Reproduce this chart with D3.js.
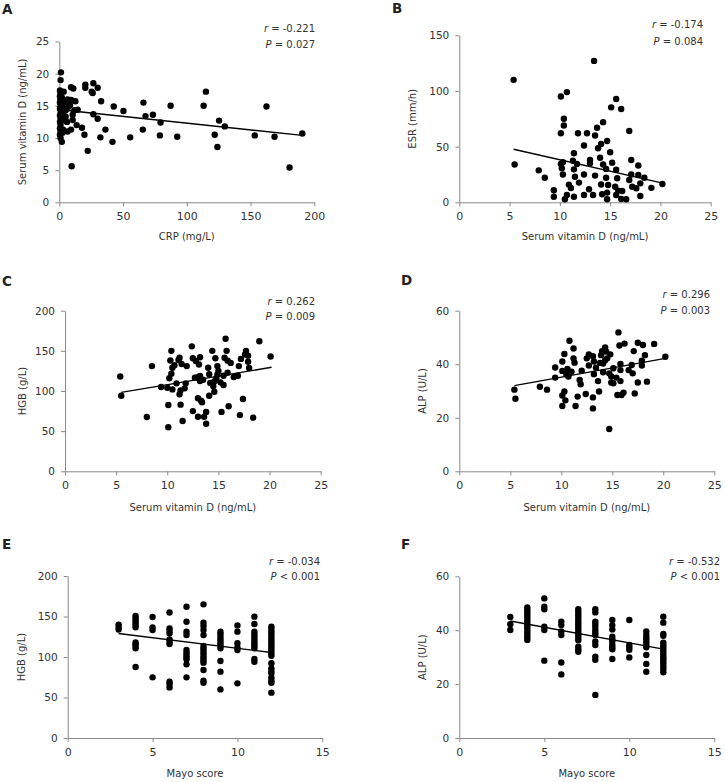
<!DOCTYPE html>
<html><head><meta charset="utf-8">
<script src="https://cdn.jsdelivr.net/npm/d3@7"></script>
<style>
body{margin:0;background:#fff}
svg{display:block}
text{font-family:"DejaVu Sans",Verdana,sans-serif}
</style>
</head><body>
<svg id="chart" width="725" height="782"></svg>
<script>
// ---------- DATA ----------
// Panel A: CRP (mg/L) vs Serum vitamin D (ng/mL)
const pointsA = [[1.3,20.2],[1,19.0],[0.5,17.4],[1,17.0],[3.4,17.2],[0.5,16.5],[0.8,16.0],[0.5,15.5],[1,15.0],[0.5,14.5],[1.2,14.0],[0.5,13.5],[1,13.0],[0.5,12.5],[1,12.0],[0.5,11.5],[1,11.0],[0.5,10.5],[1,10.0],[2,9.4],[2,16.3],[2.5,15.3],[2.5,13.8],[2,12.7],[3,11.3],[2.5,10.8],[3.5,14.6],[4,13.3],[4.5,15.8],[6,15.6],[6.5,16.0],[5,14.3],[5,13.3],[6,12.5],[6.5,11.0],[7,14.8],[8.4,15.1],[9.2,15.9],[9.2,17.9],[11,17.7],[9.7,5.6],[9.2,11.3],[10.5,13.6],[10.5,12.8],[11.8,14.3],[12.6,15.7],[14.4,14.4],[13.6,12.0],[17.8,11.6],[19.7,10.5],[20.4,18.3],[20.4,17.8],[22.3,8.0],[25.4,17.2],[26.2,17.0],[26.7,18.5],[26.7,13.7],[30.1,17.8],[30.1,13.0],[32.2,10.1],[32.8,15.7],[36.2,11.3],[41.7,9.4],[42.7,14.9],[50.3,14.2],[55.6,10.1],[65.5,11.3],[66,15.5],[67.6,13.4],[73.4,13.6],[79.4,12.4],[78.9,10.4],[87.3,15.0],[92.5,10.2],[113.2,15.0],[115,17.2],[121.9,10.5],[124,8.6],[125.3,12.7],[129.8,11.8],[153.3,10.4],[162.5,14.9],[168.8,10.2],[180.6,5.4],[190.6,10.7]];
const lineA = [[1,14.4],[190.6,10.4]];
const xTicksA = [0,50,100,150,200];
const yTicksA = [0,5,10,15,20,25];

// Panel B: Serum vitamin D vs ESR (mm/h)
const pointsB = [[5.4,110],[5.5,34],[7.9,28.7],[8.5,22],[9.4,10.8],[9.4,5],[10.1,95],[10.7,99],[10.4,75],[10.4,69],[10.1,62],[10.1,34.4],[10.3,36],[10.2,30.5],[10.3,25],[10.7,6.6],[10.5,2.7],[10.9,15.9],[11.1,12.9],[11.4,29.6],[11.4,5],[11.3,37.4],[11.4,44],[11.7,34.4],[11.8,62],[11.5,23],[11.9,17.7],[12.4,6.6],[12.7,62],[12.4,51],[12.4,25],[12.9,11.7],[13,35],[13,38],[13.3,6.6],[13.4,127],[13.5,24],[13.5,60],[13.7,67],[13.8,48.5],[14,40],[14.1,52.4],[14.3,72],[14.1,16],[14.2,7.2],[14.6,30],[14.3,34],[14.7,55],[14.6,22],[14.8,15.6],[14.7,8.7],[15,45],[15.1,85.3],[15.2,35.6],[14.7,2.7],[15.6,92.8],[15.6,29.3],[15.5,14],[15.6,6.6],[15.7,21.6],[15.8,10.5],[16.1,83.8],[16.2,10.2],[16.1,3],[16.6,2.7],[16.9,64],[17.1,38],[17.1,25],[16.9,20],[17.2,14],[17.6,12.6],[17.8,33],[17.8,24.5],[18,17],[18,5.7],[18.4,22],[19.1,13],[20.2,16.5]];
const lineB = [[5.4,47.6],[20,17.7]];
const xTicksB = [0,5,10,15,20,25];
const yTicksB = [0,50,100,150];

// Panel C: Serum vitamin D vs HGB (g/L)
const pointsC = [[5.4,118],[5.5,94],[8.0,67.6],[8.5,131],[9.4,105],[10.1,82.6],[10.1,54.8],[10.0,104],[10.2,115.8],[10.3,138],[10.4,150],[10.4,121.6],[10.5,102],[10.5,129],[10.7,132],[10.9,109.5],[11.1,138.6],[11.2,141.5],[11.2,96],[11.3,83],[11.3,100.8],[11.4,133.6],[11.5,62.7],[11.7,103.3],[11.8,109.5],[11.9,131],[12.4,155.6],[12.5,75],[12.5,140.7],[12.7,116.6],[12.8,137.3],[13,90.9],[13,68],[13.1,133],[13.2,142],[13.2,118.7],[13.2,112.4],[13.3,88],[13.4,86],[13.6,68],[13.8,74],[13.8,59.3],[14,129],[14.1,121],[14.1,94],[14.4,150],[14.2,110],[14.5,106],[14.6,99],[14.7,140.7],[14.8,116],[14.9,131],[14.9,120.7],[15.2,110.8],[15.3,74],[15.5,119],[15.5,107.5],[15.6,141.5],[15.7,165],[15.8,150],[15.9,122.8],[15.9,137.8],[16,81],[16.2,135],[16.5,117.4],[16.9,119],[17,131],[17.1,70],[17.2,140],[17.4,90],[17.6,145.6],[17.7,150],[17.9,144],[17.9,136.5],[18,128.6],[18.4,66.8],[19,162],[20.1,143],[13.5,114],[14.6,112],[15.0,125],[12.9,117]];
const lineC = [[5.5,98.3],[20.2,129.5]];
const xTicksC = [0,5,10,15,20,25];
const yTicksC = [0,50,100,150,200];

// Panel D: Serum vitamin D vs ALP (U/L)
const pointsD = [[5.4,30.5],[5.5,27.1],[7.9,31.6],[8.6,30.5],[9.4,38.8],[9.4,35],[10.1,37.5],[10.1,41],[10.3,43.8],[10.1,28.3],[10.3,29.8],[10.1,24.4],[10.4,26.5],[10.5,36.2],[10.6,38.2],[10.7,35.4],[10.8,48.8],[11,37.2],[11.2,45.9],[11.2,42.2],[11.3,40.6],[11.4,24.4],[11.6,27.9],[11.8,34.1],[11.9,32.5],[12,37.6],[12.4,28.9],[12.5,42.2],[12.7,43.7],[12.7,39.5],[13.1,27.6],[13.1,23.5],[13.1,43],[13.2,41],[13.2,36.3],[13.4,38.7],[13.6,33.7],[13.7,29.8],[13.9,43.4],[14,44.9],[14.1,40.3],[14.1,37],[14.3,46.3],[14.4,44.7],[14.5,42.2],[14.7,36.6],[14.7,15.8],[14.8,43.7],[14.9,35.4],[14.9,33.2],[15.1,38.5],[15.1,32.9],[15.4,35],[15.6,51.9],[15.5,28.5],[15.7,47],[15.8,33.7],[15.9,28.5],[16.1,29.4],[15.8,40.1],[15.8,37.8],[16.2,47.7],[16.6,37.8],[16.9,39.7],[17,36.6],[17.2,29.1],[17.1,44.9],[17.5,33.2],[17.5,48],[17.9,41.3],[17.9,39.5],[18,47.2],[18.2,43.4],[18.4,33.5],[19.1,47.6],[20.2,42.8],[13.8,40.5],[14.3,41.5]];
const lineD = [[5.4,32],[20.2,42.2]];
const xTicksD = [0,5,10,15,20,25];
const yTicksD = [0,20,40,60];

// Panel E: Mayo score vs HGB (g/L)
const pointsE = [[3,140],[3,137],[3,134],
 [4,150.6],[4,147.7],[4,144.9],[4,142.4],[4,139.5],[4,136.6],[4,118],[4,115.6],[4,113.6],[4,110.7],[4,87.7],
 [5,149.4],[5,136.6],[5,133.3],[5,74.9],
 [6,155],[6,135.4],[6,132.5],[6,129.2],[6,121.8],[6,118.9],[6,116],[6,69.5],[6,66.7],[6,62.5],
 [7,162],[7,143.6],[7,131.3],[7,127.2],[7,108.6],[7,105.3],[7,102.5],[7,99.6],[7,97.1],[7,90.9],[7,74.9],
 [8,165],[8,142.4],[8,138.3],[8,133.3],[8,127.2],[8,113.6],[8,110.7],[8,107.8],[8,104.5],[8,101.2],[8,98.4],[8,95.5],[8,93],[8,84],[8,70.8],[8,68.3],
 [9,131.3],[9,128.4],[9,125.1],[9,121.8],[9,118.9],[9,116],[9,113.6],[9,110.7],[9,95],[9,81.9],[9,60],
 [10,139],[10,131.3],[10,116.9],[10,111.9],[10,108.6],[10,67.5],
 [11,149.8],[11,140.7],[11,131.3],[11,128.4],[11,125.1],[11,121.8],[11,118.9],[11,116],[11,113.6],[11,110.7],[11,97.5],[11,94.2],
 [12,137.4],[12,134.5],[12,131.3],[12,128.4],[12,125.1],[12,121.8],[12,118.9],[12,116],[12,113.6],[12,110.7],[12,107.8],[12,104.5],[12,101.6],[12,92.2],[12,86],[12,82.7],[12,79.8],[12,74.5],[12,70.8],[12,68.3],[12,56]];
const lineE = [[3,129],[12,105.5]];
const xTicksE = [0,5,10,15];
const yTicksE = [0,50,100,150,200];

// Panel F: Mayo score vs ALP (U/L)
const pointsF = [[3,44.9],[3,42.2],[3,40.1],
 [4,48.4],[4,47.5],[4,46.6],[4,45.7],[4,44.8],[4,43.8],[4,42.9],[4,41.9],[4,41.1],[4,40.1],[4,39.2],[4,38.2],[4,37.4],[4,36.4],
 [5,51.8],[5,48.7],[5,47.8],[5,41.3],[5,40.1],[5,28.7],
 [6,43.2],[6,41.9],[6,39.5],[6,38.2],[6,28],[6,23.6],
 [7,47.8],[7,46.8],[7,45.8],[7,44.9],[7,43.9],[7,42.9],[7,42],[7,41.1],[7,40.1],[7,39.1],[7,38.2],[7,37.2],[7,36.3],[7,33.9],[7,32.9],[7,32],
 [8,47.8],[8,46.6],[8,43.2],[8,42.3],[8,41.3],[8,40.1],[8,39.1],[8,38.2],[8,35.8],[8,34.5],[8,30.2],[8,29],[8,16],
 [9,43.8],[9,41.9],[9,40.3],[9,37.6],[9,36.6],[9,35.8],[9,34.5],[9,33.7],[9,32.9],[9,29.3],
 [10,43.8],[10,34.5],[10,33.7],[10,32.7],[10,29.9],
 [11,39.5],[11,38.2],[11,37.2],[11,36.4],[11,35.4],[11,34.5],[11,33.7],[11,30.8],[11,27.5],[11,24.6],
 [12,45],[12,42.8],[12,38.6],[12,37.9],[12,35.4],[12,34.5],[12,33.7],[12,32.7],[12,31.7],[12,30.8],[12,29.9],[12,29.2],[12,28.3],[12,27.5],[12,26.5],[12,25.5],[12,24.4]];
const lineF = [[3,43.4],[12,33]];
const xTicksF = [0,5,10,15];
const yTicksF = [0,20,40,60];

const statsR = ["-0.221","-0.174","0.262","0.296","-0.034","-0.532"];
const statsP = ["= 0.027","= 0.084","= 0.009","= 0.003","< 0.001","< 0.001"];
const letters = ["A","B","C","D","E","F"];
const xTitles = ["CRP (mg/L)","Serum vitamin D (ng/mL)","Serum vitamin D (ng/mL)","Serum vitamin D (ng/mL)","Mayo score","Mayo score"];
const yTitles = ["Serum vitamin D (ng/mL)","ESR (mm/h)","HGB (g/L)","ALP (U/L)","HGB (g/L)","ALP (U/L)"];

// ---------- LAYOUT ----------
const layout = [
  {l:59.3, r:314.3, t:41.5, b:202.3, lx:2,   ly:14,  sx:315, sr:32,  sp:48,  xt:240, yt:22},
  {l:459.3,r:710.7, t:35.3, b:202.3, lx:392, ly:13,  sx:703, sr:28,  sp:45,  xt:240, yt:412},
  {l:65,   r:320.7, t:310.7,b:471.3, lx:2,   ly:286, sx:315, sr:305, sp:320, xt:511, yt:22},
  {l:459.3,r:714.3, t:310.7,b:471.3, lx:401, ly:285, sx:710, sr:298, sp:314, xt:511, yt:422},
  {l:67.7, r:322.3, t:576,  b:738,   lx:2,   ly:549, sx:320, sr:565, sp:580, xt:777, yt:21},
  {l:459.3,r:714.3, t:576.3,b:738,   lx:401, ly:549, sx:720, sr:565, sp:580, xt:777, yt:422}
];
const pointSets = [pointsA,pointsB,pointsC,pointsD,pointsE,pointsF];
const lineSets = [lineA,lineB,lineC,lineD,lineE,lineF];
const xTickSets = [xTicksA,xTicksB,xTicksC,xTicksD,xTicksE,xTicksF];
const yTickSets = [yTicksA,yTicksB,yTicksC,yTicksD,yTicksE,yTicksF];

const svg = d3.select("#chart");
const axisColor = "#8a8a8a", textColor = "#333";

layout.forEach((L,i)=>{
  const xt = xTickSets[i], yt = yTickSets[i];
  const x = d3.scaleLinear().domain([xt[0], xt[xt.length-1]]).range([L.l, L.r]);
  const y = d3.scaleLinear().domain([yt[0], yt[yt.length-1]]).range([L.b, L.t]);
  const g = svg.append("g");

  const xa = g.append("g").attr("transform",`translate(0,${L.b})`)
    .call(d3.axisBottom(x).tickValues(xt).tickSize(4).tickSizeOuter(0).tickPadding(6).tickFormat(d3.format("d")));
  const ya = g.append("g").attr("transform",`translate(${L.l},0)`)
    .call(d3.axisLeft(y).tickValues(yt).tickSize(4).tickSizeOuter(0).tickPadding(6).tickFormat(d3.format("d")));
  [xa,ya].forEach(a=>{
    a.select(".domain").attr("stroke",axisColor).attr("stroke-width",1);
    a.selectAll(".tick line").attr("stroke",axisColor);
    a.selectAll("text").attr("fill",textColor).style("font-family","DejaVu Sans, Verdana, sans-serif");
  });
  xa.selectAll("text").style("font-size","11px");
  ya.selectAll("text").style("font-size","10.5px");

  // points
  g.append("g").selectAll("circle").data(pointSets[i]).join("circle")
    .attr("cx",d=>x(d[0])).attr("cy",d=>y(d[1])).attr("r",3.2).attr("fill","#000");

  // regression line
  g.append("path").datum(lineSets[i])
    .attr("d", d3.line().x(d=>x(d[0])).y(d=>y(d[1])))
    .attr("stroke","#000").attr("stroke-width",1.4).attr("fill","none");

  // panel letter
  g.append("text").attr("x",L.lx).attr("y",L.ly).text(letters[i])
    .style("font-size","13.5px").style("font-weight","bold").attr("fill","#222");

  // stats
  const s1 = g.append("text").attr("x",L.sx).attr("y",L.sr).attr("text-anchor","end")
    .style("font-size","10px").attr("fill",textColor);
  s1.append("tspan").style("font-style","italic").text("r");
  s1.append("tspan").text(" = " + statsR[i]);
  const s2 = g.append("text").attr("x",L.sx).attr("y",L.sp).attr("text-anchor","end")
    .style("font-size","10px").attr("fill",textColor);
  s2.append("tspan").style("font-style","italic").text("P");
  s2.append("tspan").text(" " + statsP[i]);

  // axis titles
  g.append("text").attr("x",(L.l+L.r)/2).attr("y",L.xt).attr("text-anchor","middle")
    .style("font-size","10px").attr("fill",textColor).text(xTitles[i]);
  g.append("text").attr("transform",`translate(${L.yt},${(L.t+L.b)/2}) rotate(-90)`)
    .attr("text-anchor","middle").attr("dy","0.35em")
    .style("font-size","10px").attr("fill",textColor).text(yTitles[i]);
});
</script>
</body></html>
